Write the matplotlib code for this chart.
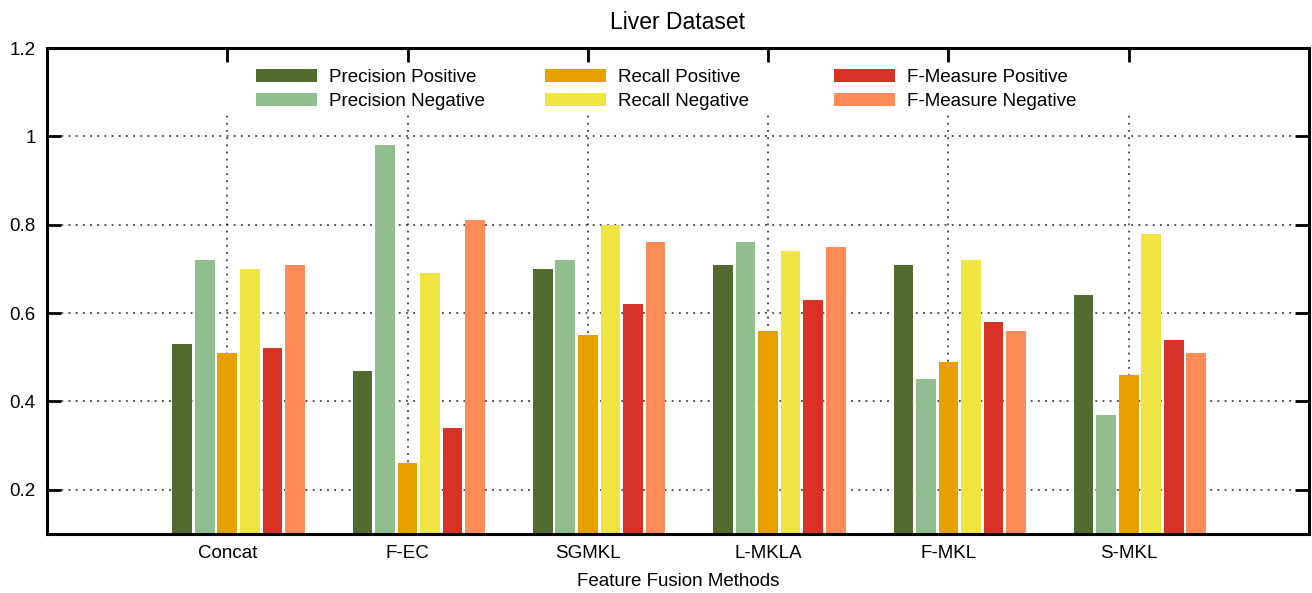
import numpy as np
import matplotlib.pyplot as plt
from matplotlib.patches import Rectangle

plt.rcParams['font.family'] = ['Liberation Sans', 'DejaVu Sans']

methods = ["Concat", "F-EC", "SGMKL", "L-MKLA", "F-MKL", "S-MKL"]
series_names = ["Precision Positive", "Precision Negative", "Recall Positive",
                "Recall Negative", "F-Measure Positive", "F-Measure Negative"]
precision_pos = [0.53, 0.47, 0.70, 0.71, 0.71, 0.64]
precision_neg = [0.72, 0.98, 0.72, 0.76, 0.45, 0.37]
recall_pos = [0.51, 0.26, 0.55, 0.56, 0.49, 0.46]
recall_neg = [0.70, 0.69, 0.80, 0.74, 0.72, 0.78]
fmeasure_pos = [0.52, 0.34, 0.62, 0.63, 0.58, 0.54]
fmeasure_neg = [0.71, 0.81, 0.76, 0.75, 0.56, 0.51]
yticks = [0.2, 0.4, 0.6, 0.8, 1.0, 1.2]
ytick_labels = ["0.2", "0.4", "0.6", "0.8", "1", "1.2"]

series = [precision_pos, precision_neg, recall_pos, recall_neg, fmeasure_pos, fmeasure_neg]
colors = ["#546b2f", "#90be8f", "#e8a000", "#f0e442", "#d83227", "#ff8c58"]

fig = plt.figure(figsize=(13.12, 5.93), dpi=100)
ax = fig.add_axes([0.0358, 0.0995, 0.9619, 0.8195])

x = np.arange(1, len(methods) + 1)
step = 0.125
width = 0.109
bars = []
for j, vals in enumerate(series):
    b = ax.bar(x + (j - 2) * step, vals, width, color=colors[j], zorder=2)
    bars.append(b)

ax.set_xlim(0, 7)
ax.set_ylim(0.1, 1.2)
ax.set_xticks(x)
ax.set_xticklabels(methods, fontsize=13.5)
ax.set_yticks(yticks)
ax.set_yticklabels(ytick_labels, fontsize=13.5)
ax.tick_params(direction='in', top=True, right=True, length=10, width=2, pad=8)
ax.set_axisbelow(True)
ax.grid(True, color='#222222', linestyle=(0, (1.2, 3.5)), linewidth=1.1)
for s in ax.spines.values():
    s.set_linewidth(2.2)

# white key box hiding the grid behind the legend
ax.add_patch(Rectangle((0.1, 0.868), 0.8, 0.099, transform=ax.transAxes,
                       facecolor='white', edgecolor='none', zorder=1.5))

col_x = [256, 545, 834]
for c in range(3):
    leg = fig.legend(handles=[bars[2 * c], bars[2 * c + 1]],
                     labels=[series_names[2 * c], series_names[2 * c + 1]],
                     loc='upper left', bbox_to_anchor=(col_x[c] / 1312, 1 - 68.5 / 593),
                     frameon=False, fontsize=13.5, borderpad=0, borderaxespad=0,
                     handlelength=3.25, handleheight=0.7, handletextpad=0.64,
                     labelspacing=0.38)

ax.set_title("Liver Dataset", fontsize=16.5, pad=14)
ax.set_xlabel("Feature Fusion Methods", fontsize=13.5, labelpad=8)

fig.savefig("out.png", dpi=100)
